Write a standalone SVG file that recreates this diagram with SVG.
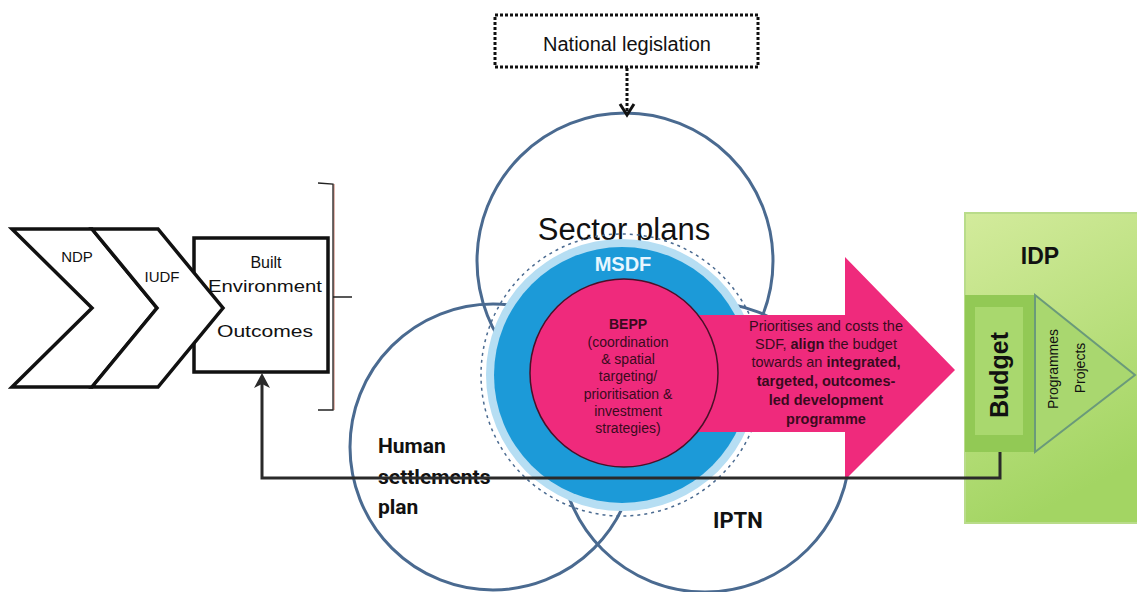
<svg xmlns="http://www.w3.org/2000/svg" width="1137" height="592" viewBox="0 0 1137 592">
<defs>
<style>
.txt{font-family:"Liberation Sans",Arial,sans-serif;fill:#111}
.hum{font-family:Roboto,"Liberation Sans",sans-serif;font-weight:bold;fill:#111}
.ring{fill:none;stroke:#4a6a90;stroke-width:3}
.chev{fill:#fff;stroke:#111;stroke-width:3.5;stroke-linejoin:miter}
.pk{font-family:"Liberation Sans",Arial,sans-serif;font-size:14px;fill:#3a0a1e;text-anchor:middle}
.ar{font-family:"Liberation Sans",Arial,sans-serif;font-size:14.5px;fill:#3a0a1e;text-anchor:middle}
.conn{fill:none;stroke:#2a2a2a;stroke-width:3}
</style>
<linearGradient id="idpg" x1="0" y1="0" x2="0.3" y2="1">
<stop offset="0" stop-color="#d3eb9c"/>
<stop offset="1" stop-color="#a3d563"/>
</linearGradient>
</defs>
<rect width="1137" height="592" fill="#fff"/>

<!-- IDP -->
<g id="idp">
<rect x="965" y="213" width="180" height="310" fill="url(#idpg)" stroke="#b9dc8a" stroke-width="2"/>
<text class="txt" x="1040" y="264" font-size="23" font-weight="bold" text-anchor="middle">IDP</text>
</g>
<g id="budget">
<rect x="965" y="295" width="70" height="157" fill="#92c955"/>
<rect x="975" y="307" width="48" height="128" fill="#a9d86e"/>
<text class="txt" transform="translate(1008,375) rotate(-90)" font-size="25" font-weight="bold" text-anchor="middle">Budget</text>
</g>
<g id="programmes">
<polygon points="1035,295 1135,375 1035,452" fill="#a9d76f" stroke="#6a9a7a" stroke-width="2"/>
<text class="txt" transform="translate(1058,369) rotate(-90)" font-size="14" text-anchor="middle">Programmes</text>
<text class="txt" transform="translate(1085,368) rotate(-90)" font-size="14" text-anchor="middle">Projects</text>
</g>

<!-- circles -->
<g id="sector-plans">
<circle class="ring" cx="625" cy="261" r="148"/>
<text class="txt" x="624" y="240" font-size="31" text-anchor="middle" fill="#1a1a1a">Sector plans</text>
</g>
<g id="human-settlements">
<circle class="ring" cx="493" cy="447" r="143"/>
</g>
<g id="iptn">
<circle class="ring" cx="705" cy="447" r="145"/>
<text class="hum" x="713" y="528" font-size="22">IPTN</text>
</g>

<!-- MSDF -->
<g id="msdf">
<circle cx="622" cy="375" r="141" fill="none" stroke="#4a6a90" stroke-width="1.5" stroke-dasharray="3,4"/>
<circle cx="622" cy="375" r="136" fill="#b6def3"/>
<circle cx="622" cy="375" r="128" fill="#1c9ad8"/>
<text x="623" y="271" font-family="Liberation Sans,Arial,sans-serif" font-size="20" font-weight="bold" fill="#e8f6ff" text-anchor="middle">MSDF</text>
</g>

<!-- pink arrow -->
<g id="priorities-arrow">
<polygon points="690,315 845,315 845,257 955,370 845,480 845,432 690,432" fill="#ef2a7c"/>
<text class="ar" x="826" y="331">Prioritises and costs the</text>
<text class="ar" x="826" y="349">SDF, <tspan font-weight="bold">align</tspan> the budget</text>
<text class="ar" x="826" y="367">towards an <tspan font-weight="bold">integrated,</tspan></text>
<text class="ar" x="826" y="386" font-weight="bold">targeted, outcomes-</text>
<text class="ar" x="826" y="405" font-weight="bold">led development</text>
<text class="ar" x="826" y="424" font-weight="bold">programme</text>
</g>

<g id="bepp">
<circle cx="624" cy="373" r="94" fill="#ef2a7c" stroke="#4a1028" stroke-width="1.5"/>
<text class="pk" x="628" y="329" font-size="16" font-weight="bold" fill="#1a0a10">BEPP</text>
<text class="pk" x="628" y="347">(coordination</text>
<text class="pk" x="628" y="364">&amp; spatial</text>
<text class="pk" x="628" y="381">targeting/</text>
<text class="pk" x="628" y="399">prioritisation &amp;</text>
<text class="pk" x="628" y="416">investment</text>
<text class="pk" x="628" y="433">strategies)</text>
</g>

<!-- human settlements label -->
<g id="human-label">
<text class="hum" x="378" y="453" font-size="21">Human</text>
<text class="hum" x="378" y="484" font-size="21">settlements</text>
<text class="hum" x="378" y="514" font-size="21">plan</text>
</g>

<!-- Built environment box -->
<g id="built-environment">
<rect x="194" y="238" width="134" height="134" fill="#fff" stroke="#111" stroke-width="3.5"/>
</g>
<g id="ndp">
<polygon class="chev" points="12,229 92,229 157,308 92,387 12,387 92,308"/>
<text class="txt" x="77" y="262" font-size="15" text-anchor="middle">NDP</text>
</g>
<g id="iudf">
<polygon class="chev" points="92,229 158,229 223,308 158,387 92,387 157,308"/>
<text class="txt" x="162" y="282" font-size="15" text-anchor="middle">IUDF</text>
</g>
<g id="built-labels">
<text class="txt" x="266" y="268" font-size="16" text-anchor="middle">Built</text>
<text class="txt" x="265" y="292" font-size="16" text-anchor="middle" textLength="114" lengthAdjust="spacingAndGlyphs">Environment</text>
<text class="txt" x="265" y="337" font-size="16" text-anchor="middle" textLength="96" lengthAdjust="spacingAndGlyphs">Outcomes</text>
</g>

<!-- bracket -->
<g id="bracket">
<path d="M334,184 L334,410" fill="none" stroke="#e2b8b0" stroke-width="2"/>
<path d="M318,183 L333,184 L333,410 L318,410 M333,297 L352,297" fill="none" stroke="#222" stroke-width="1.3"/>
</g>

<!-- National legislation -->
<g id="national-legislation">
<rect x="495" y="15" width="263" height="52" fill="#fff" stroke="#111" stroke-width="3" stroke-dasharray="3,2"/>
<text class="txt" x="627" y="51" font-size="20" text-anchor="middle">National legislation</text>
</g>

<!-- connectors -->
<g id="connectors">
<path d="M627,68 L627,112" fill="none" stroke="#111" stroke-width="3" stroke-dasharray="3,2"/>
<path d="M620,104 L627,115 L634,104" fill="none" stroke="#111" stroke-width="3"/>
<path class="conn" d="M1000,452 L1000,478 L262,478 L262,382"/>
<path d="M254,388 L262,373 L270,388 L262,384 Z" fill="#2a2a2a"/>
</g>
</svg>
